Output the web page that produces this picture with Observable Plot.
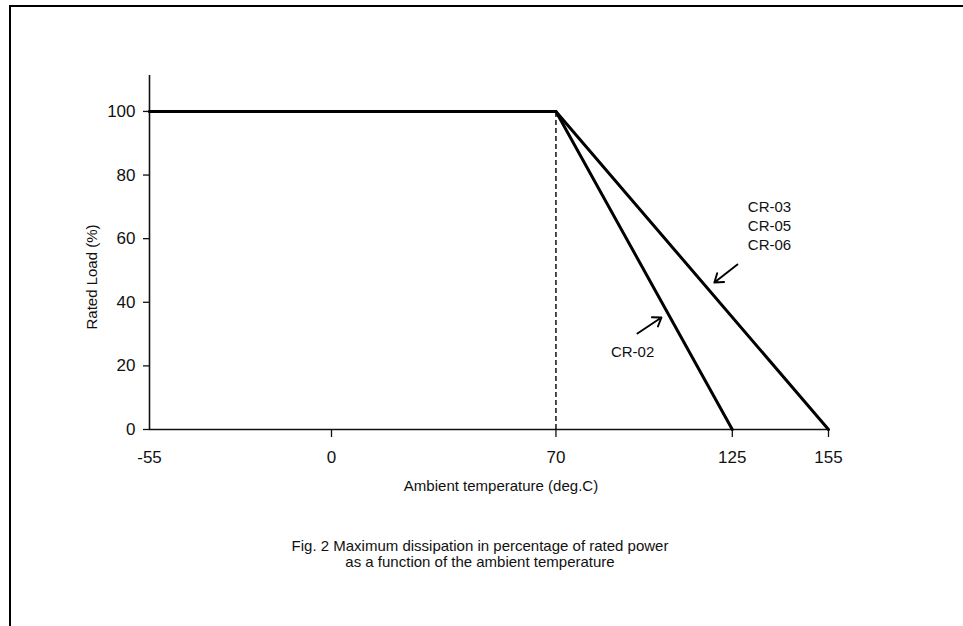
<!DOCTYPE html>
<html>
<head>
<meta charset="utf-8">
<script src="https://cdn.jsdelivr.net/npm/d3@7"></script>
<script src="https://cdn.jsdelivr.net/npm/@observablehq/plot@0.6"></script>
<style>
  html, body { margin: 0; padding: 0; background: #fff; }
  body { width: 963px; height: 626px; position: relative; overflow: hidden; font-family: "Liberation Sans", Arial, sans-serif; color: #111; }
  #frame { position: absolute; left: 9px; top: 5px; width: 1000px; height: 700px; border: 2px solid #000; box-sizing: border-box; }
  #chart { position: absolute; left: 0; top: 0; }
  .lbl { position: absolute; font-size: 15px; white-space: nowrap; transform: translate(-50%, -50%); }
  #ylab { transform: translate(-50%, -50%) rotate(-90deg); }
  #caption { text-align: center; line-height: 16px; }
</style>
</head>
<body>
<div id="frame"></div>
<div id="chart"></div>
<div class="lbl" id="xlab" style="left:501px; top:485px;"></div>
<div class="lbl" id="ylab" style="left:91px; top:277px;"></div>
<div class="lbl" id="caption" style="left:480px; top:554px;"></div>
<script>
// ---- data ----
const xTitle = "Ambient temperature (deg.C)";
const yTitle = "Rated Load (%)";
const captionLines = ["Fig. 2 Maximum dissipation in percentage of rated power", "as a function of the ambient temperature"];

const tempsCR02 = [-55, 70, 125];
const loadCR02 = [100, 100, 0];
const tempsCR03 = [-55, 70, 155];
const loadCR03 = [100, 100, 0];

const xTickValues = [0, 70, 125, 155];
const xStartLabel = [-55];
const yTickValues = [0, 20, 40, 60, 80, 100];
const derateStart = [70];

const labelNames = ["CR-03\nCR-05\nCR-06", "CR-02"];
const labelX = [136.6, 93.9];
const labelY = [64.2, 24.8];
const arrowX1 = [126.6, 95.4];
const arrowY1 = [51.9, 30.2];
const arrowX2 = [119.4, 102.9];
const arrowY2 = [46.2, 35.2];

// ---- build ----
const lineCR02 = tempsCR02.map((t, i) => ({t, v: loadCR02[i]}));
const lineCR03 = tempsCR03.map((t, i) => ({t, v: loadCR03[i]}));
const labels = labelNames.map((n, i) => ({n, x: labelX[i], y: labelY[i]}));
const arrows = arrowX1.map((x1, i) => ({x1, y1: arrowY1[i], x2: arrowX2[i], y2: arrowY2[i]}));

const font = "Liberation Sans, Arial, sans-serif";
const fmt = d => String(d);

const chart = Plot.plot({
  width: 963,
  height: 626,
  marginTop: 75, marginRight: 135, marginBottom: 197, marginLeft: 149,
  style: {fontFamily: font, background: "transparent", color: "#111", overflow: "visible"},
  x: {type: "linear", domain: [-55, 0, 155], range: [149, 331, 828]},
  y: {type: "linear", domain: [0, 111.3], range: [429, 75]},
  marks: [
    Plot.ruleX(derateStart, {y1: 0, y2: 100, stroke: "#000", strokeWidth: 1.4, strokeDasharray: "5,3"}),
    Plot.ruleX(xStartLabel, {y1: 0, y2: 111.3, stroke: "#111", strokeWidth: 1.6}),
    Plot.ruleY([0], {x1: -55, x2: 155, stroke: "#111", strokeWidth: 1.4}),
    Plot.axisY({ticks: yTickValues, tickFormat: fmt, tickSize: 6, tickPadding: 8, fontSize: 17, label: null, stroke: "#111", strokeWidth: 1.3}),
    Plot.axisX({ticks: xTickValues, tickFormat: fmt, tickSize: 8, tickPadding: 13, fontSize: 17, label: null, stroke: "#111", strokeWidth: 1.3}),
    Plot.axisX({ticks: xStartLabel, tickFormat: fmt, tickSize: 0, tickPadding: 21, fontSize: 17, label: null}),
    Plot.line(lineCR03, {x: "t", y: "v", stroke: "#000", strokeWidth: 3}),
    Plot.line(lineCR02, {x: "t", y: "v", stroke: "#000", strokeWidth: 3}),
    Plot.arrow(arrows, {x1: "x1", y1: "y1", x2: "x2", y2: "y2", stroke: "#000", strokeWidth: 1.9, headLength: 10, headAngle: 70}),
    Plot.text(labels, {x: "x", y: "y", text: "n", fontSize: 15, lineHeight: 1.27, textAnchor: "middle", fill: "#111"})
  ]
});
document.getElementById("chart").appendChild(chart);
document.getElementById("xlab").textContent = xTitle;
document.getElementById("ylab").textContent = yTitle;
document.getElementById("caption").innerHTML = captionLines.join("<br>");
</script>
</body>
</html>
